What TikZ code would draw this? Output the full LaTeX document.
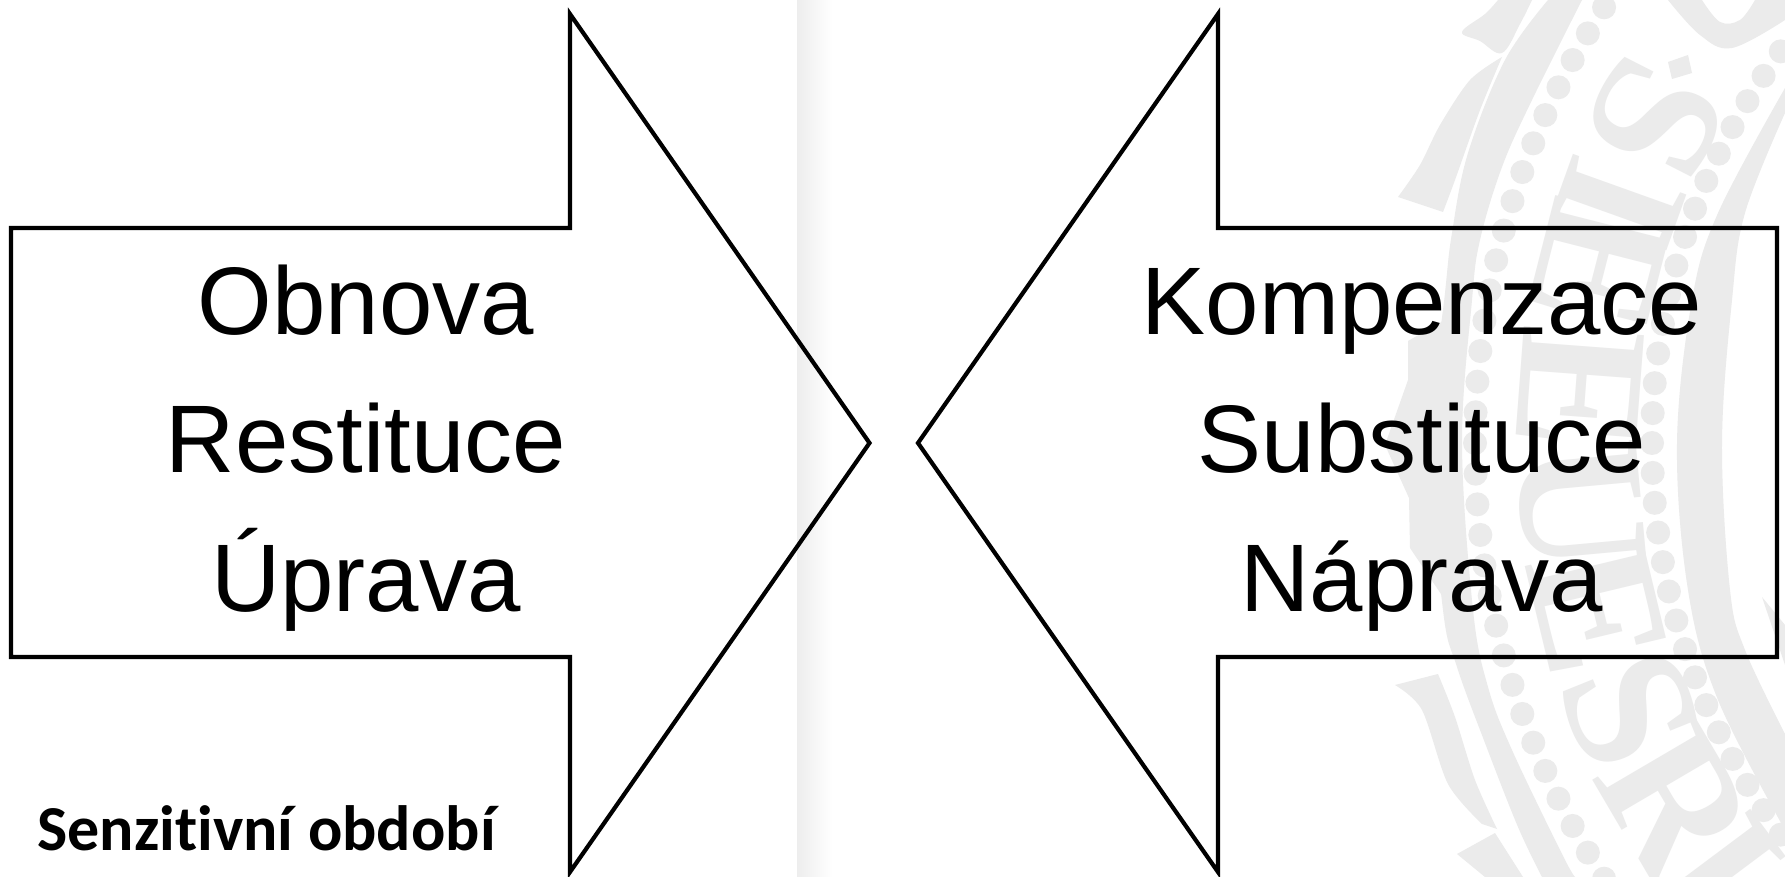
\documentclass[tikz,border=0pt]{standalone}
\usepackage{fontspec}
\setmainfont{Liberation Sans}
\newfontfamily\carl[Ligatures=NoCommon]{Carlito}
\newfontfamily\wmserif{Liberation Serif}
\definecolor{wm}{HTML}{EBEBEB}
\tikzset{
  wmfill/.style={fill=wm,draw=none},
  bead/.style={fill=wm,draw=none},
  wmletter/.style={text=wm,inner sep=0pt,font=\wmserif\bfseries\fontsize{92}{92}\selectfont},
  arrowline/.style={draw=black,line width=2.1pt,miter limit=10,line join=miter},
  biglabel/.style={anchor=base,inner sep=0pt,text=black,font=\fontsize{48}{50}\selectfont},
  notelabel/.style={anchor=base west,inner sep=0pt,text=black,font=\carl\bfseries\fontsize{32}{34}\selectfont},
}
\begin{document}
\begin{tikzpicture}[x=0.5pt,y=-0.5pt]
\clip (0,0) rectangle (1785,877);
\fill[white] (0,0) rectangle (1785,877);
% soft fold strip
\shade[left color=black!7,right color=white] (797,0) rectangle (832,877);
% watermark: rings of beads
\foreach \k in {-17,...,17}{
  \fill[bead] ({2275-800*cos(\k*2.2)},{443-800*sin(\k*2.2)}) circle (12);
}
\foreach \k in {-17,...,17}{
  \fill[bead] ({2312-660*cos(\k*2.6)},{443-660*sin(\k*2.6)}) circle (12);
}
% watermark: bands
\fill[wmfill] plot[smooth,tension=.6] coordinates {(1548,0)(1505,60)(1468,153)(1452,233)(1445,293)(1430,443)(1443,610)(1457,667)(1485,743)(1518,827)(1542,877)}
  -- plot[smooth,tension=.6] coordinates {(1575,877)(1562,854)(1512,750)(1488,687)(1473,610)(1462,443)(1472,300)(1480,240)(1502,167)(1532,100)(1582,0)} -- cycle;
\fill[wmfill] (1408,341)--(1408,380)--(1385,445)--(1409,498)--(1410,548)--(1445,600)--(1445,320)--cycle;
\fill[wmfill] plot[smooth,tension=.6] coordinates {(1785,88)(1718,213)(1692,300)(1677,443)(1688,590)(1718,700)(1785,830)}
  -- plot[smooth,tension=.6] coordinates {(1785,734)(1745,650)(1730,590)(1722,443)(1732,300)(1745,213)(1785,113)} -- cycle;
\fill[wmfill] (1762,597)--(1785,625)--(1785,665)--cycle;
% watermark: outer flourishes
\fill[wmfill] plot[smooth,tension=.6] coordinates {(1498,0)(1485,14)(1462,32)(1480,41)(1502,53)(1520,24)(1532,0)} -- cycle;
\fill[wmfill] plot[smooth,tension=.5] coordinates {(1502,57)(1470,80)(1440,125)(1420,165)(1398,197)} -- (1443,212) -- plot[smooth,tension=.5] coordinates {(1443,212)(1455,180)(1480,110)(1502,57)} -- cycle;
\fill[wmfill] (1395,685) -- (1438,674) -- plot[smooth,tension=.5] coordinates {(1438,674)(1455,717)(1475,780)(1497,829)} -- plot[smooth,tension=.5] coordinates {(1482,824)(1448,784)(1422,710)(1395,685)} -- cycle;
\fill[wmfill] (1457,854) -- (1495,833) -- (1523,877) -- (1485,877) -- cycle;
\fill[wmfill] plot[smooth,tension=.6] coordinates {(1668,0)(1700,35)(1732,48)(1785,20)} -- (1785,0)
  -- plot[smooth,tension=.6] coordinates {(1755,0)(1740,20)(1720,22)(1702,0)} -- cycle;
\fill[wmfill] (1668,62)--(1688,55)--(1692,73)--(1672,79)--cycle;
% watermark: letters of the seal
\foreach \n/\l/\a in {wa/S/27,wb/I/19.7,wc/E/14.3,wd/E/4.3,we/U/-5.2,wf/E/-13.5,wg/S/-22,wh/R/-30.4,wi/I/-36.8}{
  \node[wmletter,rotate=-90-\a] (\n) at ({2290-712*cos(\a)},{443-712*sin(\a)}) {\l};
}
% arrows
\draw[arrowline] (11,228) -- (570,228) -- (570,14) -- (869.5,443) -- (570,872) -- (570,657) -- (11,657) -- cycle;
\draw[arrowline] (1777,228) -- (1218,228) -- (1218,14) -- (918,443) -- (1218,872) -- (1218,657) -- (1777,657) -- cycle;
% labels
\node[biglabel] (l1) at (366,335) {Obnova};
\node[biglabel] (l2) at (366,473) {Restituce};
\node[biglabel] (l3) at (366,611) {Úprava};
\node[biglabel] (r1) at (1422,335) {Kompenzace};
\node[biglabel] (r2) at (1422,473) {Substituce};
\node[biglabel] (r3) at (1422,611) {Náprava};
\node[notelabel] (note) at (37,850) {Senzitivní období};
\end{tikzpicture}
\end{document}
